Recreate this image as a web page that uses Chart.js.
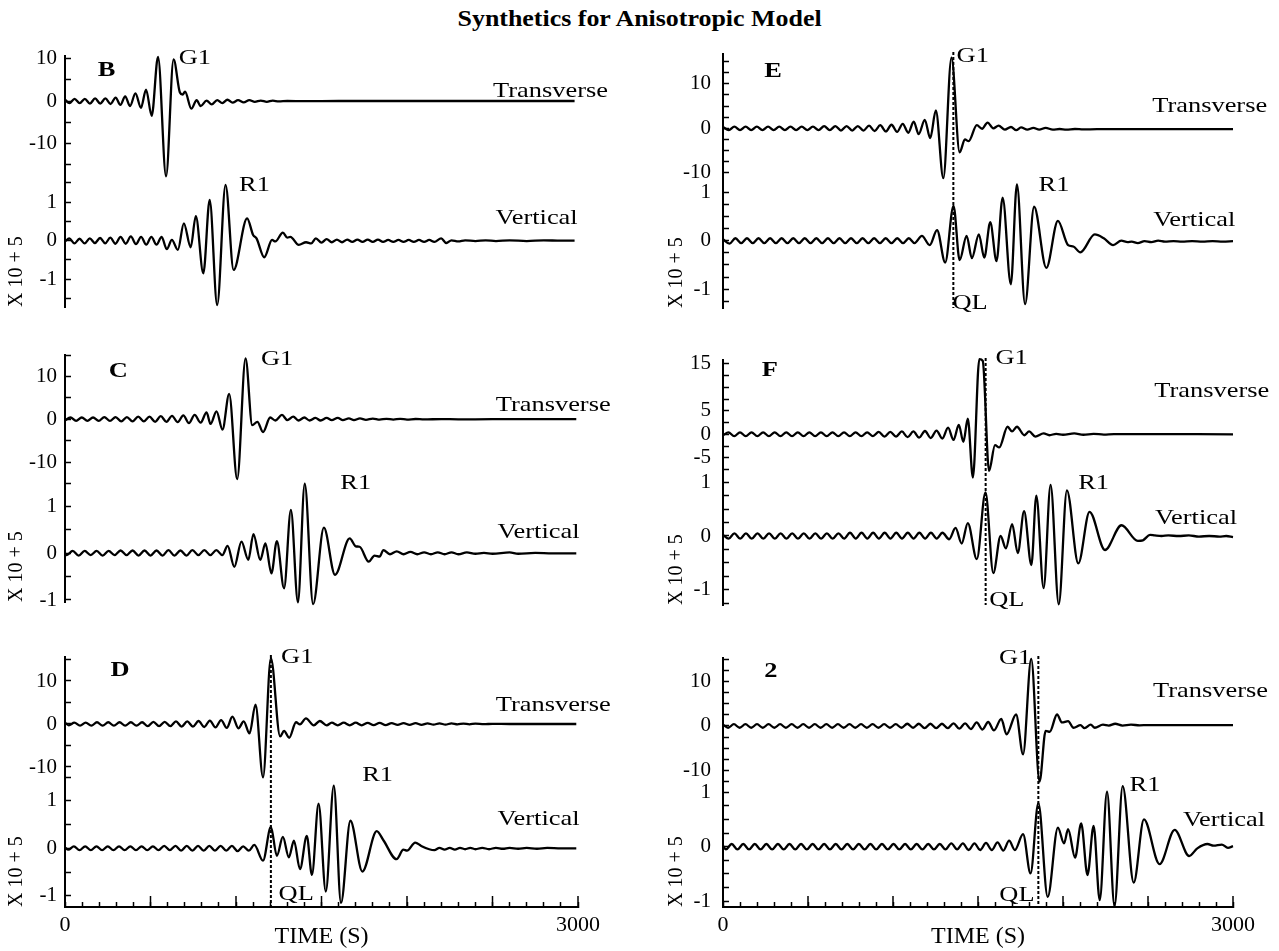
<!DOCTYPE html>
<html>
<head>
<meta charset="utf-8">
<script src="https://cdn.jsdelivr.net/npm/chart.js@4.4.1/dist/chart.umd.min.js"></script>
<style>
  body { margin: 0; background: #fff; width: 1279px; height: 951px; position: relative; overflow: hidden; font-family: "Liberation Serif", "Times New Roman", serif; }
  #title { position: absolute; top: 4px; left: 0; width: 1279px; text-align: center; font-weight: bold; font-size: 24px; line-height: 28px; }
  #title span { display: inline-block; transform: scaleX(1.08); }
  canvas { position: absolute; }
</style>
</head>
<body>
<div id="title"><span>Synthetics for Anisotropic Model</span></div>
<canvas id="panelB"></canvas>
<canvas id="panelC"></canvas>
<canvas id="panelD"></canvas>
<canvas id="panelE"></canvas>
<canvas id="panelF"></canvas>
<canvas id="panel2"></canvas>
<script>
// ---- traces: [time (s), amplitude] ----
const bTrans = [[0,0.3],[26,-0.5],[56,0.5],[86,-0.5],[116,0.5],[146,-0.6],[176,0.6],[206,-0.6],[236,0.6],[266,-0.7],[296,0.8],[324,-0.9],[352,1.1],[380,-1.2],[412,1.8],[444,-1.6],[474,2.7],[507,-3.5],[544,10.4],[591,-17.7],[635,9.8],[672,2.0],[688,1.5],[702,2.2],[739,-1.8],[770,0.2],[793,-1.2],[828,0.1],[858,-0.8],[890,0.2],[920,-0.5],[950,0.3],[980,-0.4],[1012,0.2],[1045,-0.3],[1078,0.2],[1110,-0.2],[1145,0.1],[1180,-0.2],[1215,0.1],[1250,-0.1],[1300,0],[1400,-0.05],[1600,0],[2000,0],[2980,0]];
const bVert = [[0,-0.02],[25,0.06],[55,-0.07],[85,0.05],[115,-0.07],[145,0.06],[175,-0.06],[205,0.07],[235,-0.07],[265,0.08],[295,-0.08],[325,0.1],[355,-0.08],[385,0.11],[415,-0.09],[445,0.1],[475,-0.1],[505,0.1],[535,-0.1],[565,0.1],[595,-0.22],[625,0.02],[660,-0.24],[695,0.45],[735,-0.17],[765,0.64],[809,-0.85],[846,1.06],[890,-1.67],[939,1.45],[986,-0.76],[1065,0.58],[1100,0.15],[1120,0.06],[1165,-0.43],[1211,0.02],[1230,-0.02],[1274,0.21],[1300,0.08],[1318,0.1],[1367,-0.11],[1410,-0.04],[1440,-0.07],[1467,0.06],[1500,-0.05],[1530,0.04],[1560,-0.04],[1590,0.03],[1620,-0.04],[1650,0.03],[1680,-0.03],[1710,0.03],[1740,-0.03],[1770,0.03],[1800,-0.03],[1830,0.03],[1860,-0.03],[1890,0.02],[1920,-0.03],[1950,0.02],[1980,-0.03],[2010,0.02],[2040,-0.03],[2070,0.02],[2100,-0.03],[2130,0.02],[2160,-0.03],[2200,0.06],[2230,-0.06],[2260,0.01],[2300,-0.02],[2340,0.01],[2400,-0.01],[2460,0.01],[2520,-0.01],[2600,0.01],[2700,-0.01],[2800,0.01],[2900,0],[2980,0]];

const cTrans = [[0,-0.3],[32,0.4],[65,-0.4],[98,0.4],[131,-0.4],[164,0.4],[197,-0.4],[230,0.5],[263,-0.4],[296,0.5],[329,-0.5],[362,0.5],[395,-0.5],[428,0.6],[461,-0.5],[494,0.6],[527,-0.6],[560,0.7],[593,-0.6],[626,0.8],[659,-0.7],[692,0.9],[725,-0.9],[758,1.0],[793,-0.8],[828,1.6],[851,-1.1],[886,1.85],[921,-2.4],[960,5.9],[1007,-14.0],[1056,14.2],[1095,-1.4],[1125,-0.6],[1158,-3.0],[1200,0.4],[1230,-0.3],[1269,1.0],[1300,-0.2],[1335,0.6],[1365,-0.3],[1400,0.4],[1430,-0.3],[1465,0.3],[1495,-0.3],[1530,0.3],[1560,-0.2],[1595,0.3],[1625,-0.2],[1660,0.2],[1690,-0.2],[1725,0.2],[1760,-0.15],[1800,0.15],[1840,-0.1],[1880,0.1],[1920,-0.1],[1960,0.1],[2000,-0.1],[2050,0.05],[2100,-0.05],[2200,0.03],[2300,-0.03],[2500,0],[2990,0]];
const cVert = [[0,0],[10,-0.04],[45,0.05],[80,-0.05],[115,0.05],[150,-0.04],[185,0.05],[220,-0.05],[255,0.05],[290,-0.04],[325,0.06],[360,-0.04],[395,0.06],[430,-0.05],[465,0.06],[500,-0.05],[535,0.06],[570,-0.05],[605,0.07],[640,-0.05],[675,0.06],[710,-0.05],[745,0.07],[780,-0.04],[815,0.07],[850,-0.04],[885,0.07],[920,-0.04],[951,0.16],[990,-0.29],[1032,0.25],[1072,-0.14],[1102,0.41],[1142,-0.14],[1172,0.21],[1207,-0.43],[1239,0.26],[1281,-0.75],[1321,0.93],[1362,-1.05],[1402,1.49],[1451,-1.09],[1514,0.55],[1579,-0.46],[1665,0.32],[1700,0.15],[1723,0.14],[1776,-0.18],[1810,-0.05],[1840,-0.07],[1862,0.07],[1900,-0.02],[1940,0.04],[1980,-0.02],[2020,0.03],[2060,-0.02],[2100,0.02],[2140,-0.02],[2180,0.02],[2220,-0.02],[2260,0.02],[2300,-0.02],[2350,0.02],[2400,-0.01],[2450,0.01],[2500,-0.01],[2600,0.02],[2650,-0.01],[2750,0.01],[2850,0],[2990,0]];

const dTrans = [[0,0.3],[22,-0.3],[55,0.3],[88,-0.4],[121,0.3],[154,-0.4],[187,0.4],[220,-0.4],[253,0.4],[286,-0.4],[319,0.4],[352,-0.4],[385,0.4],[418,-0.4],[451,0.4],[484,-0.5],[517,0.5],[550,-0.5],[583,0.5],[616,-0.5],[649,0.6],[682,-0.6],[715,0.6],[748,-0.6],[781,0.7],[814,-0.7],[847,0.8],[880,-0.8],[913,0.9],[946,-0.9],[979,1.7],[1014,-1.0],[1045,0.6],[1079,-2.2],[1114,4.5],[1158,-12.4],[1204,15.3],[1258,-2.9],[1281,-1.6],[1311,-3.2],[1351,0.4],[1374,-0.1],[1409,1.3],[1455,-0.3],[1490,0.7],[1530,-0.3],[1560,0.3],[1595,-0.3],[1630,0.3],[1665,-0.3],[1700,0.3],[1735,-0.3],[1770,0.25],[1805,-0.25],[1840,0.25],[1875,-0.25],[1910,0.2],[1945,-0.2],[1980,0.2],[2015,-0.2],[2050,0.2],[2085,-0.2],[2120,0.15],[2155,-0.15],[2190,0.15],[2225,-0.15],[2260,0.15],[2295,-0.1],[2330,0.1],[2365,-0.1],[2400,0.1],[2450,-0.05],[2500,0.05],[2600,0],[2990,0]];
const dVert = [[0,0.02],[19,-0.03],[52,0.04],[85,-0.04],[118,0.04],[151,-0.04],[184,0.04],[217,-0.04],[250,0.04],[283,-0.04],[316,0.04],[349,-0.04],[382,0.04],[415,-0.04],[448,0.04],[481,-0.04],[514,0.04],[547,-0.04],[580,0.05],[613,-0.04],[646,0.05],[679,-0.05],[712,0.05],[745,-0.05],[778,0.05],[811,-0.05],[844,0.05],[877,-0.05],[910,0.05],[943,-0.05],[976,0.05],[1009,-0.06],[1042,0.04],[1075,-0.05],[1107,0.07],[1158,-0.26],[1204,0.45],[1239,-0.16],[1274,0.24],[1309,-0.19],[1339,0.16],[1374,-0.44],[1414,0.26],[1444,-0.56],[1483,0.94],[1525,-0.91],[1572,1.32],[1614,-1.15],[1669,0.58],[1739,-0.49],[1823,0.36],[1862,0.17],[1939,-0.23],[1979,-0.03],[2000,-0.05],[2048,0.12],[2083,0.05],[2130,-0.02],[2160,-0.04],[2190,0.01],[2220,-0.03],[2250,0.01],[2280,-0.03],[2310,0.01],[2340,-0.02],[2370,0.01],[2400,-0.02],[2440,0.01],[2480,-0.02],[2520,0.01],[2560,-0.01],[2600,0.01],[2650,-0.01],[2700,0.01],[2760,-0.01],[2820,0.01],[2900,0],[2990,0]];

const eTrans = [[0,0.3],[34,-0.4],[67,0.4],[100,-0.4],[133,0.4],[166,-0.4],[199,0.4],[232,-0.4],[265,0.4],[298,-0.4],[331,0.4],[364,-0.4],[397,0.4],[430,-0.4],[463,0.4],[496,-0.4],[529,0.4],[562,-0.4],[595,0.5],[628,-0.4],[661,0.5],[694,-0.5],[727,0.5],[760,-0.5],[793,0.5],[826,-0.5],[859,0.6],[892,-0.6],[925,0.7],[958,-0.7],[991,0.8],[1024,-0.8],[1057,1.0],[1090,-1.0],[1122,1.5],[1151,-1.3],[1187,1.9],[1219,-2.2],[1252,4.0],[1296,-11.2],[1344,15.9],[1392,-5.4],[1423,-2.5],[1445,-2.9],[1493,0.7],[1524,-0.1],[1556,1.3],[1590,0.0],[1621,0.6],[1658,-0.3],[1694,0.3],[1725,-0.4],[1753,0.2],[1790,-0.3],[1826,0.1],[1860,-0.3],[1898,0.1],[1940,-0.3],[1980,-0.15],[2020,-0.3],[2070,-0.15],[2120,-0.25],[2200,-0.2],[3000,-0.2]];
const eVert = [[0,0.03],[39,-0.06],[73,0.05],[107,-0.05],[141,0.05],[175,-0.05],[209,0.05],[243,-0.05],[277,0.05],[311,-0.05],[345,0.05],[379,-0.05],[413,0.05],[447,-0.05],[481,0.05],[515,-0.05],[549,0.05],[583,-0.05],[617,0.05],[651,-0.05],[685,0.05],[719,-0.05],[753,0.05],[787,-0.05],[821,0.05],[855,-0.05],[889,0.05],[923,-0.05],[957,0.05],[991,-0.05],[1025,0.05],[1059,-0.05],[1093,0.05],[1127,-0.05],[1170,0.10],[1216,-0.09],[1259,0.22],[1307,-0.45],[1356,0.72],[1392,-0.4],[1433,0.10],[1464,-0.36],[1505,0.13],[1537,-0.35],[1572,0.38],[1609,-0.42],[1645,0.89],[1693,-0.9],[1729,1.16],[1777,-1.31],[1830,0.7],[1902,-0.56],[1970,0.41],[2030,-0.09],[2061,-0.12],[2102,-0.24],[2187,0.13],[2240,0.05],[2295,-0.09],[2343,0.0],[2380,-0.03],[2404,-0.02],[2440,-0.05],[2480,-0.01],[2520,-0.03],[2560,0.0],[2600,-0.02],[2650,-0.01],[2700,-0.02],[2760,-0.01],[2820,-0.02],[2880,-0.01],[2940,-0.02],[3000,-0.01]];

const fTrans = [[0,-0.2],[32,0.4],[66,-0.4],[100,0.4],[134,-0.4],[168,0.4],[202,-0.4],[236,0.4],[270,-0.4],[304,0.4],[338,-0.4],[372,0.4],[406,-0.4],[440,0.4],[474,-0.4],[508,0.4],[542,-0.4],[576,0.4],[610,-0.4],[644,0.4],[678,-0.4],[712,0.4],[746,-0.4],[780,0.4],[814,-0.4],[848,0.4],[882,-0.4],[916,0.5],[950,-0.5],[984,0.5],[1018,-0.5],[1052,0.6],[1086,-0.6],[1120,0.6],[1154,-0.7],[1188,0.7],[1222,-0.8],[1256,0.8],[1290,-0.9],[1324,1.4],[1356,-1.2],[1387,2.0],[1414,-1.6],[1440,3.3],[1470,-9.2],[1508,16.0],[1528,15.6],[1565,-7.8],[1600,-2.3],[1625,-2.8],[1674,1.6],[1700,0.6],[1729,1.6],[1773,-0.2],[1801,0.6],[1837,-0.5],[1886,0.2],[1920,-0.2],[1960,0.1],[2000,-0.1],[2066,0.2],[2120,-0.1],[2180,0.1],[2240,-0.05],[2300,0.05],[3000,0]];
const fVert = [[0,0.02],[33,-0.05],[67,0.05],[101,-0.05],[135,0.05],[169,-0.05],[203,0.05],[237,-0.05],[271,0.05],[305,-0.05],[339,0.05],[373,-0.05],[407,0.05],[441,-0.05],[475,0.05],[509,-0.05],[543,0.05],[577,-0.05],[611,0.05],[645,-0.05],[679,0.05],[713,-0.05],[747,0.06],[781,-0.05],[815,0.06],[849,-0.05],[883,0.06],[917,-0.05],[951,0.06],[985,-0.05],[1019,0.06],[1053,-0.05],[1087,0.06],[1121,-0.05],[1155,0.06],[1189,-0.05],[1223,0.06],[1257,-0.05],[1291,0.06],[1330,-0.06],[1368,0.15],[1404,-0.14],[1440,0.24],[1493,-0.43],[1544,0.81],[1590,-0.69],[1633,0.0],[1664,-0.23],[1701,0.22],[1734,-0.32],[1771,0.46],[1814,-0.54],[1843,0.75],[1886,-0.97],[1927,0.95],[1975,-1.27],[2023,0.85],[2090,-0.51],[2156,0.45],[2247,-0.26],[2344,0.2],[2440,-0.09],[2470,-0.08],[2512,0.02],[2540,0.01],[2580,0.0],[2620,0.01],[2680,0.0],[2740,0.01],[2800,-0.01],[2860,0.0],[2920,-0.01],[2960,0.0],[3000,-0.02]];

const pTrans = [[0,0.3],[30,-0.4],[64,0.4],[98,-0.4],[132,0.4],[166,-0.4],[200,0.4],[234,-0.4],[268,0.4],[302,-0.4],[336,0.4],[370,-0.4],[404,0.4],[438,-0.4],[472,0.4],[506,-0.4],[540,0.4],[574,-0.4],[608,0.4],[642,-0.4],[676,0.4],[710,-0.4],[744,0.4],[778,-0.4],[812,0.4],[846,-0.4],[880,0.4],[914,-0.4],[948,0.4],[982,-0.4],[1016,0.4],[1050,-0.4],[1084,0.5],[1118,-0.4],[1152,0.5],[1186,-0.5],[1220,0.5],[1254,-0.5],[1288,0.5],[1322,-0.5],[1356,0.6],[1390,-0.6],[1424,0.6],[1458,-0.7],[1492,0.8],[1526,-0.8],[1560,0.9],[1594,-1.0],[1637,1.6],[1668,-1.9],[1724,2.6],[1765,-6.4],[1813,15.2],[1862,-12.6],[1898,-1.1],[1922,-1.3],[1965,2.6],[1994,0.8],[2030,1.1],[2062,-0.4],[2103,0.2],[2127,-0.5],[2163,0.3],[2187,-0.4],[2235,0.3],[2270,0.1],[2307,0.5],[2350,0.1],[2400,0.3],[2450,0.15],[2500,0.2],[3000,0.2]];
const pVert = [[0,0.02],[17,-0.05],[51,0.05],[85,-0.05],[119,0.05],[153,-0.05],[187,0.05],[221,-0.05],[255,0.05],[289,-0.05],[323,0.05],[357,-0.05],[391,0.05],[425,-0.05],[459,0.05],[493,-0.05],[527,0.05],[561,-0.05],[595,0.05],[629,-0.05],[663,0.05],[697,-0.05],[731,0.05],[765,-0.05],[799,0.05],[833,-0.05],[867,0.05],[901,-0.05],[935,0.05],[969,-0.05],[1003,0.05],[1037,-0.05],[1071,0.05],[1105,-0.05],[1139,0.05],[1173,-0.05],[1207,0.05],[1241,-0.05],[1275,0.05],[1309,-0.05],[1343,0.06],[1377,-0.05],[1411,0.06],[1445,-0.06],[1479,0.06],[1513,-0.06],[1547,0.07],[1581,-0.06],[1615,0.08],[1649,-0.07],[1683,0.11],[1717,-0.06],[1765,0.23],[1809,-0.49],[1855,0.8],[1910,-0.92],[1970,0.35],[2006,0.06],[2030,0.32],[2071,-0.2],[2107,0.43],[2144,-0.52],[2180,0.38],[2216,-0.98],[2259,1.01],[2303,-1.09],[2351,1.11],[2416,-0.66],[2476,0.5],[2568,-0.32],[2657,0.31],[2742,-0.17],[2790,-0.03],[2850,0.05],[2886,0.02],[2934,0.04],[2970,-0.02],[3000,0.01]];

// ---- axis ranges, ticks and labels ----
const bTransRange = [-17.41, 10.59], bVertRange = [-1.722, 1.706];
const cTransRange = [-11.86, 15.0],  cVertRange = [-1.043, 1.784];
const dTransRange = [-10.7, 15.58],  dVertRange = [-1.236, 1.648];
const eTransRange = [-11.84, 16.7],  eVertRange = [-1.388, 1.231];
const fTransRange = [-8.02, 15.8],   fVertRange = [-1.283, 1.19];
const pTransRange = [-12.22, 15.38], pVertRange = [-1.106, 1.224];

const bTransTicks = [-15, -10, -5, 0, 5, 10];
const cTransTicks = [-10, -5, 0, 5, 10, 15];
const dTransTicks = [-10, -5, 0, 5, 10, 15];
const eTransTicks = [-10, -7.5, -5, -2.5, 0, 2.5, 5, 7.5, 10, 12.5, 15];
const fTransTicks = [-7.5, -5, -2.5, 0, 2.5, 5, 7.5, 10, 12.5, 15];
const pTransTicks = [-12.5, -10, -7.5, -5, -2.5, 0, 2.5, 5, 7.5, 10, 12.5, 15];
const bVertTicks = [-1.5, -1, -0.5, 0, 0.5, 1, 1.5];
const cVertTicks = [-1, -0.5, 0, 0.5, 1, 1.5];
const dVertTicks = [-1, -0.5, 0, 0.5, 1, 1.5];
const eVertTicks = [-1.25, -1, -0.75, -0.5, -0.25, 0, 0.25, 0.5, 0.75, 1];
const fVertTicks = [-1.25, -1, -0.75, -0.5, -0.25, 0, 0.25, 0.5, 0.75, 1];
const pVertTicks = [-1, -0.75, -0.5, -0.25, 0, 0.25, 0.5, 0.75, 1];

const tenLabels = [-10, 0, 10];
const fTransLabels = [-5, 0, 5, 15];
const oneLabels = [-1, 0, 1];

const timeTicks = [0,100,200,300,400,500,600,700,800,900,1000,1100,1200,1300,1400,1500,1600,1700,1800,1900,2000,2100,2200,2300,2400,2500,2600,2700,2800,2900,3000];
const majorTimeTicks = [0, 500, 1000, 1500, 2000, 2500, 3000];
const timeLabels = [0, 3000];

// ---- text marks: [text, time, value, axis, bold] ----
const bNotes = [['B', 243, 7.3, 'yT', true], ['G1', 759, 10.1, 'yT'], ['Transverse', 2839, 2.2, 'yT'], ['R1', 1108, 1.45, 'yV'], ['Vertical', 2758, 0.58, 'yV']];
const cNotes = [['C', 311, 11.2, 'yT', true], ['G1', 1240, 14.1, 'yT'], ['Transverse', 2855, 3.3, 'yT'], ['R1', 1700, 1.5, 'yV'], ['Vertical', 2769, 0.46, 'yV']];
const dNotes = [['D', 322, 12.6, 'yT', true], ['G1', 1358, 15.6, 'yT'], ['Transverse', 2855, 4.4, 'yT'], ['R1', 1828, 1.54, 'yV'], ['Vertical', 2769, 0.61, 'yV'], ['QL', 1352, -0.97, 'yV']];
const eNotes = [['E', 294, 12.7, 'yT', true], ['G1', 1469, 16.1, 'yT'], ['Transverse', 2863, 4.9, 'yT'], ['R1', 1947, 1.15, 'yV'], ['Vertical', 2772, 0.43, 'yV'], ['QL', 1453, -1.29, 'yV']];
const fNotes = [['F', 276, 13.7, 'yT', true], ['G1', 1698, 16.2, 'yT'], ['Transverse', 2875, 9.1, 'yT'], ['R1', 2180, 0.98, 'yV'], ['Vertical', 2782, 0.33, 'yV'], ['QL', 1669, -1.19, 'yV']];
const pNotes = [['2', 282, 12.3, 'yT', true], ['G1', 1718, 15.3, 'yT'], ['Transverse', 2868, 7.8, 'yT'], ['R1', 2482, 1.13, 'yV'], ['Vertical', 2947, 0.49, 'yV'], ['QL', 1729, -0.89, 'yV']];

// ---- layout ----
Chart.defaults.font.family = '"Liberation Serif", "Times New Roman", serif';
Chart.defaults.color = '#000';

const leftCol = { left: 0, width: 640, axisW: 65, padRight: 62, tickPad: 14 };
const rightCol = { left: 660, width: 619, axisW: 63, padRight: 46, tickPad: 18 };

const panels = [
  { id: 'panelB', col: leftCol, top: 46, height: 265, trans: bTrans, vert: bVert, tRange: bTransRange, vRange: bVertRange, tTicks: bTransTicks, vTicks: bVertTicks, tLabels: tenLabels, tW: 119, vW: 132, notes: bNotes, ql: null, time: false },
  { id: 'panelC', col: leftCol, top: 345, height: 261, trans: cTrans, vert: cVert, tRange: cTransRange, vRange: cVertRange, tTicks: cTransTicks, vTicks: cVertTicks, tLabels: tenLabels, tW: 115, vW: 132, notes: cNotes, ql: null, time: false },
  { id: 'panelD', col: leftCol, top: 647, height: 304, trans: dTrans, vert: dVert, tRange: dTransRange, vRange: dVertRange, tTicks: dTransTicks, vTicks: dVertTicks, tLabels: tenLabels, tW: 113, vW: 137, notes: dNotes, ql: 1204, time: true },
  { id: 'panelE', col: rightCol, top: 44, height: 268, trans: eTrans, vert: eVert, tRange: eTransRange, vRange: eVertRange, tTicks: eTransTicks, vTicks: eVertTicks, tLabels: tenLabels, tW: 127, vW: 127, notes: eNotes, ql: 1355, time: false },
  { id: 'panelF', col: rightCol, top: 350, height: 259, trans: fTrans, vert: fVert, tRange: fTransRange, vRange: fVertRange, tTicks: fTransTicks, vTicks: fVertTicks, tLabels: fTransLabels, tW: 112, vW: 133, notes: fNotes, ql: 1545, time: false },
  { id: 'panel2', col: rightCol, top: 648, height: 303, trans: pTrans, vert: pVert, tRange: pTransRange, vRange: pVertRange, tTicks: pTransTicks, vTicks: pVertTicks, tLabels: tenLabels, tW: 122, vW: 127, notes: pNotes, ql: 1855, time: true }
];

const toXY = arr => arr.map(([x, y]) => ({ x, y }));

const lineStyle = {
  borderColor: '#000', borderWidth: 2.3, pointRadius: 0, fill: false,
  cubicInterpolationMode: 'monotone', clip: false
};

// QL line, long time ticks and the panel texts
function marksPlugin(p) {
  return {
    id: 'marks',
    afterDraw(chart) {
      const ctx = chart.ctx;
      const xs = chart.scales.x;
      ctx.save();
      ctx.strokeStyle = '#000';
      ctx.fillStyle = '#000';
      if (p.ql !== null) {
        const px = xs.getPixelForValue(p.ql);
        ctx.lineWidth = 2;
        ctx.setLineDash([3, 2]);
        ctx.beginPath();
        ctx.moveTo(px, chart.scales.yT.top - 2);
        ctx.lineTo(px, chart.scales.yV.bottom);
        ctx.stroke();
        ctx.setLineDash([]);
      }
      if (p.time) {
        ctx.lineWidth = 1.5;
        majorTimeTicks.forEach(t => {
          const px = xs.getPixelForValue(t);
          ctx.beginPath();
          ctx.moveTo(px, xs.top);
          ctx.lineTo(px, xs.top - 11);
          ctx.stroke();
        });
      }
      p.notes.forEach(([txt, t, v, axis, bold]) => {
        const px = xs.getPixelForValue(t);
        const py = chart.scales[axis].getPixelForValue(v);
        ctx.save();
        ctx.translate(px, py);
        ctx.scale(1.2, 1);
        ctx.font = (bold ? 'bold ' : '') + '22px "Liberation Serif", serif';
        ctx.textAlign = 'center';
        ctx.textBaseline = 'middle';
        ctx.fillText(txt, 0, 0);
        ctx.restore();
      });
      ctx.restore();
    }
  };
}

function yScale(range, ticks, labels, stackW, order, col, title) {
  return {
    type: 'linear', position: 'left', stack: 'panel', stackWeight: stackW, weight: order,
    min: range[0], max: range[1],
    afterBuildTicks: s => { s.ticks = ticks.map(v => ({ value: v })); },
    afterFit: s => { s.width = col.axisW; s.paddingTop = 0; s.paddingBottom = 0; },
    ticks: {
      autoSkip: false, padding: col.tickPad, font: { size: 21 }, color: '#000',
      callback: v => labels.includes(v) ? String(v) : ''
    },
    grid: { drawOnChartArea: false, tickLength: -6, tickWidth: 1.5, tickColor: '#000' },
    border: { display: true, color: '#000', width: 2 },
    title: { display: !!title, text: title || '', align: 'start', font: { size: 20 }, color: '#000', padding: 5 }
  };
}

panels.forEach(p => {
  const canvas = document.getElementById(p.id);
  canvas.width = p.col.width;
  canvas.height = p.height;
  canvas.style.left = p.col.left + 'px';
  canvas.style.top = p.top + 'px';

  new Chart(canvas, {
    type: 'line',
    data: {
      datasets: [
        Object.assign({ data: toXY(p.trans), yAxisID: 'yT' }, lineStyle),
        Object.assign({ data: toXY(p.vert), yAxisID: 'yV' }, lineStyle)
      ]
    },
    options: {
      responsive: false,
      animation: false,
      devicePixelRatio: 1,
      layout: { padding: { top: 10, right: p.col.padRight, bottom: p.time ? 0 : 4, left: 0 } },
      plugins: { legend: { display: false }, tooltip: { enabled: false } },
      scales: {
        x: {
          type: 'linear', min: 0, max: 3000, display: p.time,
          afterBuildTicks: s => { s.ticks = timeTicks.map(v => ({ value: v })); },
          afterFit: s => { if (p.time) { s.height = 44; s.paddingLeft = 0; s.paddingRight = 0; } },
          ticks: {
            autoSkip: false, maxRotation: 0, padding: 10, font: { size: 22 }, color: '#000',
            callback: v => timeLabels.includes(v) ? String(v) : ''
          },
          grid: { drawOnChartArea: false, tickLength: -5, tickWidth: 1.5, tickColor: '#000' },
          border: { display: true, color: '#000', width: 2 },
          title: { display: true, text: 'TIME (S)', font: { size: 24 }, color: '#000', padding: 0 }
        },
        yT: yScale(p.tRange, p.tTicks, p.tLabels, p.tW, 1, p.col, null),
        yV: yScale(p.vRange, p.vTicks, oneLabels, p.vW, 0, p.col, 'X 10 + 5')
      }
    },
    plugins: [marksPlugin(p)]
  });
});
</script>
</body>
</html>
